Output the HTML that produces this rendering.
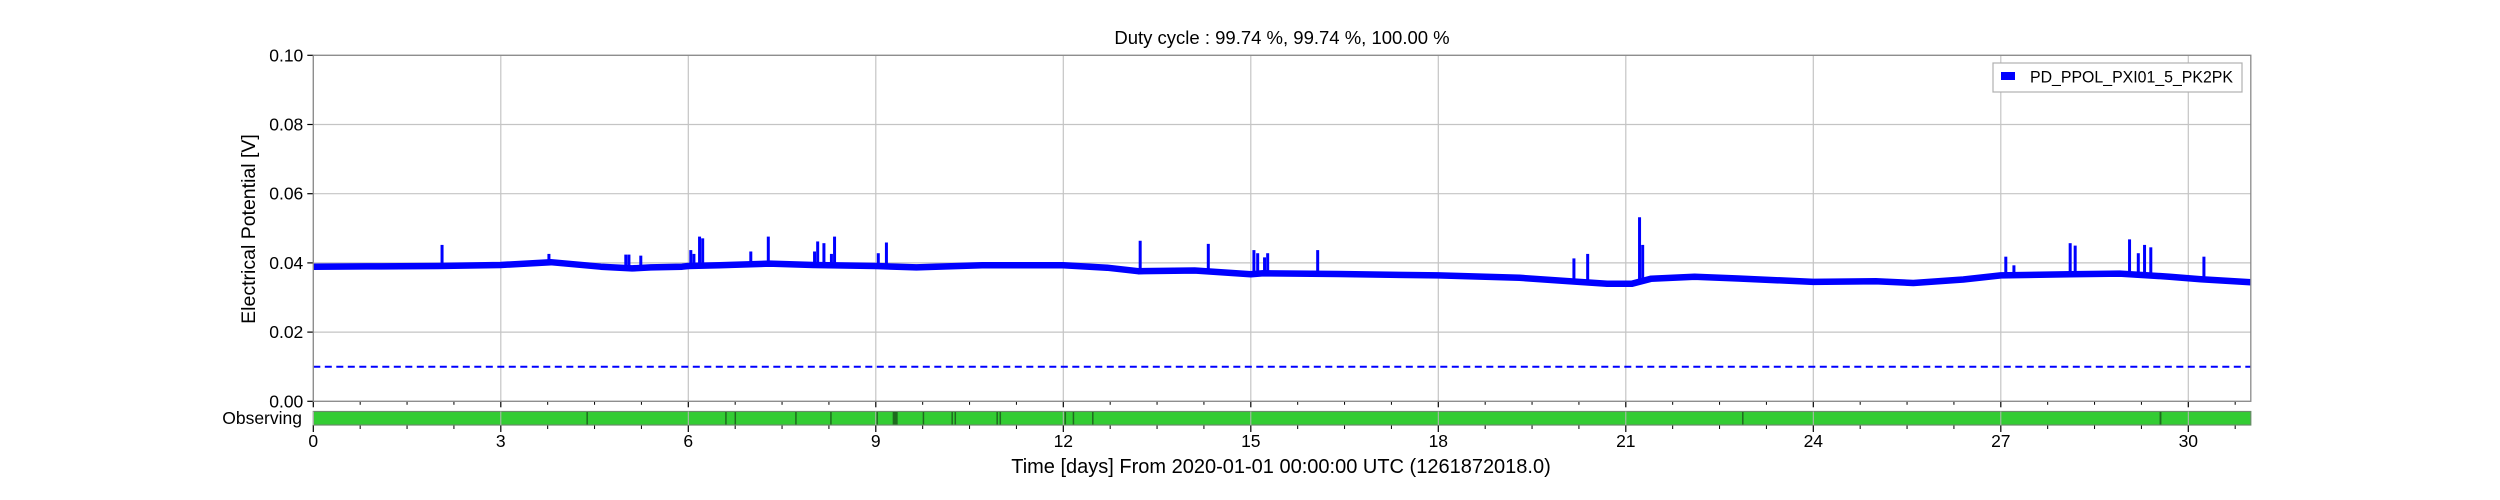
<!DOCTYPE html>
<html><head><meta charset="utf-8"><style>
html,body{margin:0;padding:0;background:#fff;}
svg{display:block;font-family:"Liberation Sans",Arial,sans-serif;}
</style></head><body>
<svg id="chart" width="2500" height="500" viewBox="0 0 2500 500" xmlns="http://www.w3.org/2000/svg">
<rect width="2500" height="500" fill="#fff"/>
<text x="1282" y="44" font-size="18.5" text-anchor="middle" fill="#000">Duty cycle : 99.74 %, 99.74 %, 100.00 %</text>
<text transform="translate(255,229) rotate(-90)" font-size="19.5" text-anchor="middle" fill="#000">Electrical Potential [V]</text>
<text x="1281" y="473" font-size="20" text-anchor="middle" fill="#000">Time [days] From 2020-01-01 00:00:00 UTC (1261872018.0)</text>
<text x="302" y="424" font-size="17.5" text-anchor="end" fill="#000">Observing</text>
<g id="grid"></g>
<g id="series"></g>
<g id="axes"></g>
<g id="obs"></g>
<g>
<rect x="1993" y="63" width="249" height="29" fill="#fff" stroke="#b0b0b0" stroke-width="1.2"/>
<rect x="2001" y="72" width="14" height="8" fill="#0000ff"/>
<text x="2030" y="82.5" font-size="17" textLength="203" lengthAdjust="spacingAndGlyphs" fill="#000">PD_PPOL_PXI01_5_PK2PK</text>
</g>
</svg>
<script>
// ---- data ----
const baseDays = [0,0.85,2,3,3.8,4.6,5.1,5.4,5.9,6.0,6.5,7.3,8.0,9.0,9.65,10.7,12.0,12.7,13.2,14.1,15.0,15.2,16.4,18.0,19.3,20.1,20.7,21.1,21.4,22.1,22.8,24.0,25.0,25.6,26.4,27.0,28.1,28.9,29.7,30.2,31.0];
const baseVals = [0.0389,0.0390,0.0391,0.0394,0.0402,0.0389,0.0384,0.0387,0.0389,0.0391,0.0393,0.0398,0.0394,0.0391,0.0387,0.0393,0.0393,0.0386,0.0376,0.0378,0.0367,0.0370,0.0368,0.0364,0.0357,0.0347,0.0340,0.0340,0.0354,0.0360,0.0355,0.0345,0.0347,0.0342,0.0352,0.0364,0.0367,0.0369,0.0360,0.0353,0.0344];
const spikeDays = [2.06,3.77,5.0,5.05,5.24,6.04,6.09,6.18,6.23,7.0,7.28,8.02,8.07,8.17,8.29,8.34,9.04,9.17,13.23,14.32,15.05,15.11,15.22,15.27,16.07,20.17,20.39,21.22,21.27,27.08,27.21,28.11,28.19,29.06,29.2,29.3,29.4,30.25];
const spikeVals = [0.0452,0.0426,0.0424,0.0424,0.0421,0.0437,0.0426,0.0476,0.0471,0.0433,0.0476,0.0433,0.0462,0.0457,0.0426,0.0476,0.0428,0.0459,0.0464,0.0455,0.0437,0.0428,0.0416,0.0428,0.0437,0.0413,0.0426,0.0532,0.0452,0.0418,0.0393,0.0457,0.0450,0.0468,0.0428,0.0452,0.0445,0.0418];
const thresholdVal = 0.01;
const xTicks = [0,3,6,9,12,15,18,21,24,27,30];
const yTicks = [0,0.02,0.04,0.06,0.08,0.10];
const yTickLabels = ["0.00","0.02","0.04","0.06","0.08","0.10"];
const gapStarts = [4.37,6.59,6.74,7.71,8.27,9.01,9.27,9.75,10.21,10.26,10.93,10.98,12.02,12.15,12.46,22.86,29.54];
const gapEnds   = [4.39,6.61,6.76,7.73,8.29,9.03,9.35,9.77,10.23,10.28,10.95,11.00,12.04,12.17,12.48,22.88,29.57];

// ---- layout ----
const L=313.3,R=2250.8,T=55.3,B=401.3,D0=0,D1=31,V0=0,V1=0.1;
const ox=d=>L+(d-D0)/(D1-D0)*(R-L);
const oy=v=>B-(v-V0)/(V1-V0)*(B-T);
const NS='http://www.w3.org/2000/svg';
function mk(tag,attrs,parent){const e=document.createElementNS(NS,tag);for(const k in attrs)e.setAttribute(k,attrs[k]);parent.appendChild(e);return e;}
const grid=document.getElementById('grid'),series=document.getElementById('series'),axes=document.getElementById('axes'),obs=document.getElementById('obs');

xTicks.forEach(d=>{
  const g=mk('line',{x1:ox(d),x2:ox(d),y1:T,y2:B,stroke:'#c4c4c4','stroke-width':1.2},grid);
  
  
  const t=mk('line',{x1:ox(d),x2:ox(d),y1:B,y2:B+6,stroke:'#000','stroke-width':1.2},axes);
  
  
  const t2=mk('line',{x1:ox(d),x2:ox(d),y1:425,y2:432,stroke:'#000','stroke-width':1.2},axes);
  
  
  const lb=mk('text',{x:ox(d),y:447,'font-size':17.5,'text-anchor':'middle',fill:'#000'},axes);
  lb.textContent=String(d);
  
  
});
for(let d=0.75;d<D1;d+=0.75){
  if(Math.abs(d/3-Math.round(d/3))<1e-6)continue;
  const m=mk('line',{x1:ox(d),x2:ox(d),y1:B,y2:B+3.5,stroke:'#000','stroke-width':1},axes);
  
  
  const m2=mk('line',{x1:ox(d),x2:ox(d),y1:425,y2:429,stroke:'#000','stroke-width':1},axes);
  
  
}
yTicks.forEach((v,i)=>{
  const g=mk('line',{x1:L,x2:R,y1:oy(v),y2:oy(v),stroke:'#c4c4c4','stroke-width':1.2},grid);
  
  
  const t=mk('line',{x1:L-6,x2:L,y1:oy(v),y2:oy(v),stroke:'#000','stroke-width':1.2},axes);
  
  
  const lb=mk('text',{x:L-10,y:oy(v)+6,'font-size':17.5,'text-anchor':'end',fill:'#000'},axes);
  lb.textContent=yTickLabels[i];
  
  
});
const frame=mk('rect',{x:L,y:T,width:R-L,height:B-T,fill:'none',stroke:'#8a8a8a','stroke-width':1.3},axes);



// threshold
const th=mk('line',{x1:L,x2:R,y1:oy(thresholdVal),y2:oy(thresholdVal),stroke:'#0000ff','stroke-width':2,'stroke-dasharray':'7,4.5'},series);



// spikes
spikeDays.forEach((d,i)=>{
  let k=0;while(k<baseDays.length-2&&baseDays[k+1]<d)k++;
  const f=(d-baseDays[k])/(baseDays[k+1]-baseDays[k]);
  const b=baseVals[k]+f*(baseVals[k+1]-baseVals[k]);
  const s=mk('line',{x1:ox(d),x2:ox(d),y1:oy(b),y2:oy(spikeVals[i]),stroke:'#0000ff','stroke-width':3},series);
  
  
});
// band
const pts=baseDays.map((d,i)=>ox(d).toFixed(1)+','+oy(baseVals[i]).toFixed(1)).join(' ');
const band=mk('polyline',{points:pts,fill:'none',stroke:'#0000ff','stroke-width':6.5,'stroke-linejoin':'round'},series);



// observing bar
const bar=mk('rect',{x:L,y:411.5,width:R-L,height:13.5,fill:'#33cc33',stroke:'#6a8a6a','stroke-width':1.2},obs);


xTicks.forEach(d=>{
  const g=mk('line',{x1:ox(d),x2:ox(d),y1:411.5,y2:425,stroke:'#b8b8b8','stroke-width':1},obs);
  
  
});
gapStarts.forEach((s,i)=>{
  const w=Math.max(1.5,ox(gapEnds[i])-ox(s));
  const g=mk('rect',{x:ox(s),y:412,width:w,height:12.5,fill:'#1e6a1e'},obs);
  
  
});
</script>
</body></html>
